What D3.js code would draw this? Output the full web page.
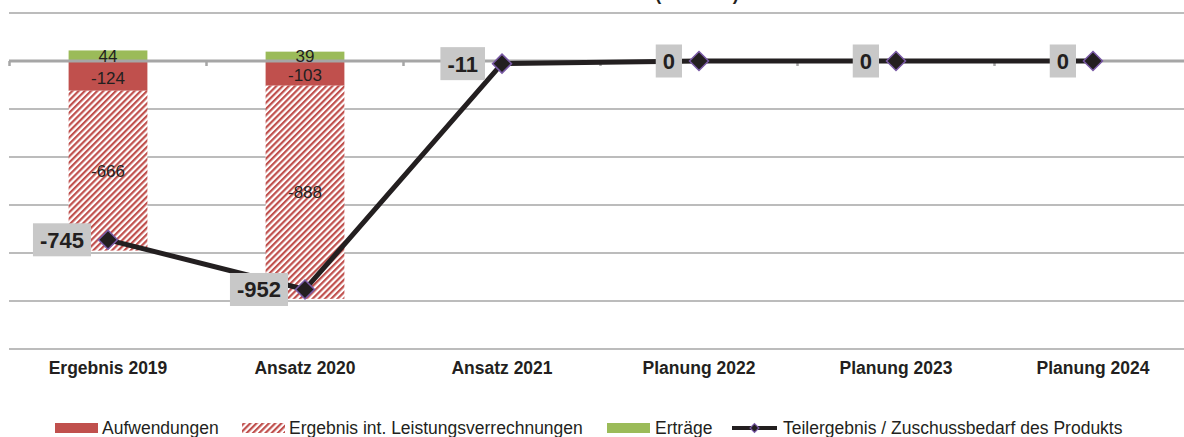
<!DOCTYPE html>
<html><head><meta charset="utf-8">
<script src="https://cdn.jsdelivr.net/npm/d3@7"></script>
<style>html,body{margin:0;padding:0;background:#fff;}svg{display:block;font-family:"Liberation Sans",Arial,sans-serif;}</style>
</head><body>
<svg id="c" width="1184" height="437"></svg>
<script>
const categories = ["Ergebnis 2019","Ansatz 2020","Ansatz 2021","Planung 2022","Planung 2023","Planung 2024"];
const ertraege = [44, 39, 0, 0, 0, 0];
const aufwendungen = [-124, -103, 0, 0, 0, 0];
const leistungsverrechnungen = [-666, -888, 0, 0, 0, 0];
const teilergebnis = [-745, -952, -11, 0, 0, 0];
const yTicks = [200, 0, -200, -400, -600, -800, -1000, -1200];
const legendLabels = ["Aufwendungen", "Ergebnis int. Leistungsverrechnungen", "Erträge", "Teilergebnis / Zuschussbedarf des Produkts"];
const titleText = "(in Tsd. €)";

const RED = "#c0504d", GREEN = "#9bbb59", GRID = "#a6a6a6", INK = "#231f20", PURPLE = "#7a5aa6";
const svg = d3.select("#c");

const x = d3.scaleBand().domain(categories).range([9.5, 1191.5]).padding(0);
const y = d3.scaleLinear().domain([-1200, 200]).range([349, 13]);
const bw = x.bandwidth() * 0.4;
const cx = c => x(c) + x.bandwidth() / 2;

const defs = svg.append("defs");
const pat = defs.append("pattern").attr("id", "hatch").attr("patternUnits", "userSpaceOnUse")
  .attr("width", 4.4).attr("height", 4.4).attr("patternTransform", "rotate(45)");
pat.append("rect").attr("width", 4.4).attr("height", 4.4).attr("fill", "#fff");
pat.append("rect").attr("width", 2.2).attr("height", 4.4).attr("fill", RED);

// title (mostly cut off at top, as in the reference)
svg.append("text").attr("x", 697).attr("y", 0).attr("text-anchor", "middle")
  .attr("font-size", 18).attr("font-weight", "bold").attr("fill", INK).text(titleText);

// gridlines
svg.append("g").selectAll("line").data(yTicks.filter(v => v !== 0)).join("line")
  .attr("x1", 9).attr("x2", 1184).attr("y1", d => y(d)).attr("y2", d => y(d))
  .attr("stroke", GRID).attr("stroke-width", 1.6);

const idx = d3.range(categories.length);
// bars
const gb = svg.append("g");
gb.selectAll(".e").data(idx.filter(i => ertraege[i] !== 0)).join("rect")
  .attr("x", i => cx(categories[i]) - bw / 2).attr("width", bw)
  .attr("y", i => y(ertraege[i])).attr("height", i => y(0) - y(ertraege[i])).attr("fill", GREEN);
gb.selectAll(".a").data(idx.filter(i => aufwendungen[i] !== 0)).join("rect")
  .attr("x", i => cx(categories[i]) - bw / 2).attr("width", bw)
  .attr("y", y(0)).attr("height", i => y(aufwendungen[i]) - y(0)).attr("fill", RED);
gb.selectAll(".h").data(idx.filter(i => leistungsverrechnungen[i] !== 0)).join("rect")
  .attr("x", i => cx(categories[i]) - bw / 2).attr("width", bw)
  .attr("y", i => y(aufwendungen[i])).attr("height", i => y(aufwendungen[i] + leistungsverrechnungen[i]) - y(aufwendungen[i]))
  .attr("fill", "url(#hatch)");

// zero axis
svg.append("line").attr("x1", 9).attr("x2", 1184).attr("y1", y(0)).attr("y2", y(0))
  .attr("stroke", GRID).attr("stroke-width", 3);
svg.append("g").selectAll("line").data(categories.concat(["end"])).join("line")
  .attr("x1", (d, i) => x.range()[0] + i * x.step()).attr("x2", (d, i) => x.range()[0] + i * x.step())
  .attr("y1", y(0)).attr("y2", y(0) + 5).attr("stroke", GRID).attr("stroke-width", 2.5);

// bar labels
const gl = svg.append("g").attr("font-size", 17).attr("fill", INK).attr("text-anchor", "middle");
idx.filter(i => ertraege[i] !== 0).forEach(i => {
  gl.append("text").attr("x", cx(categories[i])).attr("y", (y(ertraege[i]) + y(0)) / 2).attr("dy", "0.36em").text(ertraege[i]);
});
idx.filter(i => aufwendungen[i] !== 0).forEach(i => {
  gl.append("text").attr("x", cx(categories[i])).attr("y", (y(aufwendungen[i]) + y(0)) / 2 + 2).attr("dy", "0.36em").text(aufwendungen[i]);
});
idx.filter(i => leistungsverrechnungen[i] !== 0).forEach(i => {
  const a = aufwendungen[i], b = aufwendungen[i] + leistungsverrechnungen[i];
  gl.append("text").attr("x", cx(categories[i])).attr("y", (y(a) + y(b)) / 2).attr("dy", "0.36em").text(leistungsverrechnungen[i]);
});

// line
const line = d3.line().x((d, i) => cx(categories[i])).y(d => y(d));
svg.append("path").datum(teilergebnis).attr("d", line).attr("fill", "none")
  .attr("stroke", INK).attr("stroke-width", 5).attr("stroke-linejoin", "round");
const diamond = d3.symbol().type(d3.symbolDiamond2).size(230);
svg.append("g").selectAll("path").data(teilergebnis).join("path")
  .attr("d", diamond).attr("transform", (d, i) => `translate(${cx(categories[i])},${y(d)})`)
  .attr("fill", INK).attr("stroke", PURPLE).attr("stroke-width", 1.5);

// line labels
const gll = svg.append("g");
teilergebnis.forEach((v, i) => {
  const g = gll.append("g");
  const t = g.append("text").attr("font-size", 22).attr("font-weight", "bold").attr("fill", INK)
    .attr("text-anchor", "end").attr("x", cx(categories[i]) - 24).attr("y", y(v)).attr("dy", "0.36em").text(v);
  const bb = t.node().getBBox();
  g.insert("rect", "text").attr("x", bb.x - 7).attr("width", bb.width + 14)
    .attr("y", y(v) - 16.5).attr("height", 33).attr("fill", "#c8c8c8");
});

// category labels
svg.append("g").selectAll("text").data(categories).join("text")
  .attr("x", d => cx(d)).attr("y", 368).attr("dy", "0.36em").attr("text-anchor", "middle")
  .attr("font-size", 17.5).attr("font-weight", "bold").attr("fill", INK).text(d => d);

// legend
const lg = svg.append("g").attr("font-size", 17.5).attr("fill", INK);
const ly = 428;
lg.append("rect").attr("x", 55).attr("y", ly - 5).attr("width", 43).attr("height", 10).attr("fill", RED);
lg.append("text").attr("x", 102).attr("y", ly).attr("dy", "0.36em").text(legendLabels[0]);
lg.append("rect").attr("x", 242).attr("y", ly - 5).attr("width", 43).attr("height", 10).attr("fill", "url(#hatch)");
lg.append("text").attr("x", 289).attr("y", ly).attr("dy", "0.36em").text(legendLabels[1]);
lg.append("rect").attr("x", 607).attr("y", ly - 5).attr("width", 43).attr("height", 10).attr("fill", GREEN);
lg.append("text").attr("x", 655).attr("y", ly).attr("dy", "0.36em").text(legendLabels[2]);
lg.append("line").attr("x1", 732).attr("x2", 777).attr("y1", ly).attr("y2", ly).attr("stroke", INK).attr("stroke-width", 4);
lg.append("path").attr("d", d3.symbol().type(d3.symbolDiamond2).size(50)).attr("transform", `translate(754.5,${ly})`)
  .attr("fill", INK).attr("stroke", PURPLE).attr("stroke-width", 1.2);
lg.append("text").attr("x", 783).attr("y", ly).attr("dy", "0.36em").text(legendLabels[3]);
</script>
</body></html>
